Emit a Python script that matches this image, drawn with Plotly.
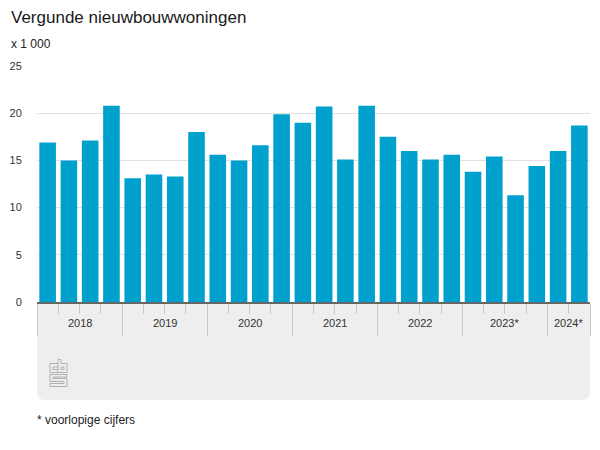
import plotly.graph_objects as go

# quarterly values, x 1 000
quarter_values = [16.9, 15.0, 17.1, 20.8,
                  13.1, 13.5, 13.3, 18.0,
                  15.6, 15.0, 16.6, 19.9,
                  19.0, 20.7, 15.1, 20.8,
                  17.5, 16.0, 15.1, 15.6,
                  13.8, 15.4, 11.3, 14.4,
                  16.0, 18.7]
years = ['2018', '2019', '2020', '2021', '2022', '2023*', '2024*']
quarters_per_year = [4, 4, 4, 4, 4, 4, 2]
y_ticks = [0, 5, 10, 15, 20, 25]

W, H = 600, 450
LEFT, RIGHT, TOP, BOTTOM = 36.5, 590, 66, 302
FONT = 'Liberation Sans'
GREY_BOX = '#eeeeee'
LOGO = '#b0b0b0'


def px(x):
    return (x - LEFT) / (RIGHT - LEFT)


def py(y):
    return (BOTTOM - y) / (BOTTOM - TOP)


def to_path(points):
    return 'M' + ' L'.join(f'{px(x):.5f},{py(y):.5f}' for x, y in points)


x = list(range(len(quarter_values)))

# year boundaries and label centres, from the number of quarters per year
year_edges = [-0.5]
for n in quarters_per_year:
    year_edges.append(year_edges[-1] + n)
year_centers = [(a + b) / 2 for a, b in zip(year_edges[:-1], year_edges[1:])]
quarter_edges = [i - 0.5 for i in range(len(x) + 1) if i - 0.5 not in year_edges]

fig = go.Figure()
fig.add_trace(go.Bar(x=x, y=quarter_values, marker_color='#00a1cd',
                     marker_line_width=0, width=0.78))

# grey panel below the axis, rounded at the bottom corners
r = 8
panel = (f'M{px(LEFT):.5f},{py(BOTTOM):.5f} L{px(RIGHT):.5f},{py(BOTTOM):.5f} '
         f'L{px(RIGHT):.5f},{py(400 - r):.5f} '
         f'Q{px(RIGHT):.5f},{py(400):.5f} {px(RIGHT - r):.5f},{py(400):.5f} '
         f'L{px(LEFT + r):.5f},{py(400):.5f} '
         f'Q{px(LEFT):.5f},{py(400):.5f} {px(LEFT):.5f},{py(400 - r):.5f} Z')
shapes = [dict(type='path', path=panel, xref='paper', yref='paper',
               fillcolor=GREY_BOX, line_width=0, layer='below')]

# cbs logo, drawn as outlines
logo_parts = [
    [(57.5, 363.5), (49.5, 363.5), (49.5, 372.5), (57.5, 372.5)],
    [(57.5, 367), (52.5, 367), (52.5, 369.5), (57.5, 369.5)],
    [(57.5, 359.5), (60.5, 359.5), (60.5, 363.5), (66.5, 363.5), (66.5, 372.5),
     (57.5, 372.5), (57.5, 359.5)],
    [(60.5, 367), (63.5, 367), (63.5, 369.5), (60.5, 369.5), (60.5, 367)],
    [(66.5, 374.5), (49.5, 374.5), (49.5, 381.5), (63.5, 381.5), (63.5, 383.5), (49.5, 383.5),
     (49.5, 386.5), (66.5, 386.5), (66.5, 378.5), (52.5, 378.5), (52.5, 377), (66.5, 377),
     (66.5, 374.5)],
]
for part in logo_parts:
    shapes.append(dict(type='path', path=to_path(part), xref='paper', yref='paper',
                       line=dict(color=LOGO, width=1), layer='above'))

annotations = [
    dict(text=label, x=c, y=py(323), xref='x', yref='paper', showarrow=False,
         font=dict(family=FONT, size=11, color='#333333'), xanchor='center', yanchor='middle')
    for label, c in zip(years, year_centers)
]
for text, ax, ay, size, color in [
    ('Vergunde nieuwbouwwoningen', 8, 17.5, 17, '#1a1a1a'),
    ('x 1 000', 8.5, 44, 12, '#222222'),
    ('* voorlopige cijfers', 34.5, 420, 12, '#222222'),
]:
    annotations.append(dict(text=text, x=px(ax), y=py(ay), xref='paper', yref='paper',
                            showarrow=False, xanchor='left', yanchor='middle',
                            font=dict(family=FONT, size=size, color=color)))

fig.update_layout(
    width=W, height=H,
    margin=dict(l=LEFT, r=W - RIGHT, t=TOP, b=H - BOTTOM, pad=0, autoexpand=False),
    paper_bgcolor='white', plot_bgcolor='white',
    showlegend=False,
    shapes=shapes,
    annotations=annotations,
    font=dict(family=FONT, size=12, color='#333333'),
    xaxis=dict(
        range=[-0.5, len(x) - 0.5],
        tickmode='array', tickvals=year_edges, ticktext=[''] * len(year_edges),
        ticks='outside', ticklen=32, tickcolor='#c8c8c8', tickwidth=1,
        minor=dict(tickmode='array', tickvals=quarter_edges, ticks='outside',
                   ticklen=10, tickcolor='#c8c8c8', tickwidth=1, showgrid=False),
        showgrid=False, zeroline=False, automargin=False,
        showline=True, linecolor='#666666', linewidth=1.5,
    ),
    yaxis=dict(
        range=[0, 25], tickmode='array', tickvals=y_ticks,
        ticks='outside', ticklen=12, tickcolor='rgba(0,0,0,0)',
        gridcolor='#e2e2e2', gridwidth=1, zeroline=False, showline=False, automargin=False,
        tickfont=dict(family=FONT, size=11, color='#333333'),
    ),
)

# the page's default body margin would push the chart off the 600x450 window
fig.write_html('out.html', config=dict(displayModeBar=False),
               post_script="document.body.style.margin='0';")
